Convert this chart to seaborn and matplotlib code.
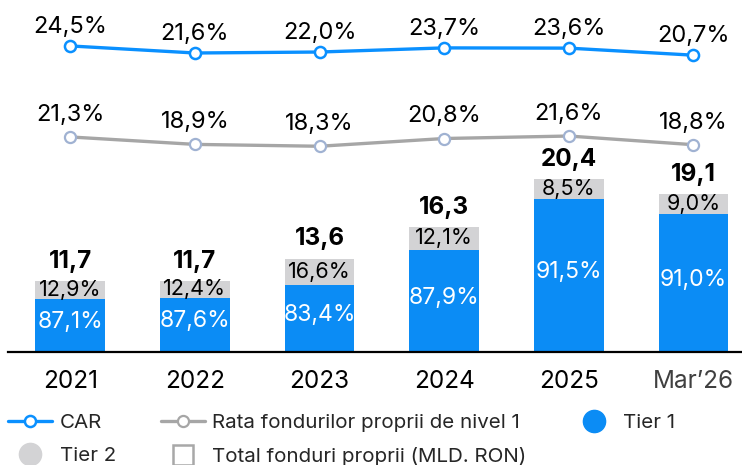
import matplotlib
matplotlib.use('Agg')
import matplotlib.pyplot as plt
from matplotlib.lines import Line2D
import seaborn as sns
import numpy as np
import pandas as pd

# data
years = ['2021', '2022', '2023', '2024', '2025', 'Mar’26']
total_funds = [11.7, 11.7, 13.6, 16.3, 20.4, 19.1]   # MLD. RON
tier1_pct = [87.1, 87.6, 83.4, 87.9, 91.5, 91.0]
tier2_pct = [12.9, 12.4, 16.6, 12.1, 8.5, 9.0]
car = [24.5, 21.6, 22.0, 23.7, 23.6, 20.7]
tier1_ratio = [21.3, 18.9, 18.3, 20.8, 21.6, 18.8]

BLUE = '#0B8CF5'
LINE_BLUE = '#0A90FF'
GRAY = '#D3D3D5'
LINE_GRAY = '#A6A6A6'
MARKER_GRAY = '#A0B2D2'


def ro(v, pct=False):
    s = f'{v:.1f}'.replace('.', ',')
    return s + '%' if pct else s


sns.set_theme(style='white')
plt.rcParams['font.family'] = ['Inter', 'DejaVu Sans']

df = pd.DataFrame({
    'year': years,
    'total': total_funds,
    'tier1': [t * p / 100 for t, p in zip(total_funds, tier1_pct)],
})

fig = plt.figure(figsize=(7.42, 4.65), dpi=100)
ax = fig.add_axes([8 / 742, 113 / 465, 734 / 742, 352 / 465])

# stacked bars: total in grey, tier 1 part in blue on top of it
sns.barplot(data=df, x='year', y='total', color=GRAY, width=0.56,
            saturation=1, linewidth=0, ax=ax)
sns.barplot(data=df, x='year', y='tier1', color=BLUE, width=0.56,
            saturation=1, linewidth=0, ax=ax)

ybot, ytop = 5.63, 35.66
ax.set_ylim(ybot, ytop)
ax.set_xlabel('')
ax.set_ylabel('')
ax.set_yticks([])
for s in ['top', 'left', 'right']:
    ax.spines[s].set_visible(False)
ax.spines['bottom'].set_color('black')
ax.spines['bottom'].set_linewidth(1.6)
ax.tick_params(axis='x', length=0, pad=13, labelsize=17.5, labelcolor='black')
ax.get_xticklabels()[-1].set_color('#404040')

x = np.arange(len(years))
for i in x:
    t1 = df['tier1'][i]
    tot = total_funds[i]
    ax.text(i, (ybot + t1) / 2 + 0.3, ro(tier1_pct[i], True), ha='center',
            va='center', color='white', fontsize=16.5)
    ax.text(i, (t1 + tot) / 2, ro(tier2_pct[i], True), ha='center',
            va='center', color='black', fontsize=15.5)
    ax.annotate(ro(tot), (i, tot), xytext=(0, 6), textcoords='offset points',
                ha='center', va='bottom', fontsize=17.5, fontweight='bold',
                color='black')

# CAR line
ax_car = ax.twinx()
sns.lineplot(x=x, y=car, ax=ax_car, color=LINE_BLUE, lw=2.4, marker='o',
             markersize=8, markerfacecolor='white', markeredgecolor=LINE_BLUE,
             markeredgewidth=1.8)
ax_car.set_ylim(-101.4, 43.4)
for i in x:
    ax_car.annotate(ro(car[i], True), (i, car[i]), xytext=(0, 6),
                    textcoords='offset points', ha='center', va='bottom',
                    fontsize=17, color='black')

# Tier 1 ratio line
ax_t1 = ax.twinx()
sns.lineplot(x=x, y=tier1_ratio, ax=ax_t1, color=LINE_GRAY, lw=2.4,
             marker='o', markersize=8, markerfacecolor='white',
             markeredgecolor=MARKER_GRAY, markeredgewidth=1.6)
ax_t1.set_ylim(-48.1, 65.5)
for i in x:
    ax_t1.annotate(ro(tier1_ratio[i], True), (i, tier1_ratio[i]),
                   xytext=(0, 8), textcoords='offset points', ha='center',
                   va='bottom', fontsize=17, color='black')

for a in [ax_car, ax_t1]:
    a.set_yticks([])
    a.set_ylabel('')
    for s in a.spines.values():
        s.set_visible(False)

ax.set_xlim(-0.5, 5.39)

# legend
handles = [
    Line2D([], [], color=LINE_BLUE, lw=2.4, marker='o', markersize=8,
           markerfacecolor='white', markeredgecolor=LINE_BLUE,
           markeredgewidth=1.8),
    Line2D([], [], ls='none', marker='o', markersize=16, color=GRAY),
    Line2D([], [], color=LINE_GRAY, lw=2.4, marker='o', markersize=8,
           markerfacecolor='white', markeredgecolor=LINE_GRAY,
           markeredgewidth=1.6),
    Line2D([], [], ls='none', marker='s', markersize=15,
           markerfacecolor='white', markeredgecolor='#A8A8A8',
           markeredgewidth=1.8),
    Line2D([], [], ls='none', marker='o', markersize=16, color=BLUE),
]
labels = ['CAR', 'Tier 2', 'Rata fondurilor proprii de nivel 1',
          'Total fonduri proprii (MLD. RON)', 'Tier 1']
fig.legend(handles, labels, ncol=3, loc='lower left',
           bbox_to_anchor=(0.0, -0.02), frameon=False, fontsize=14.8,
           handlelength=2.15, handletextpad=0.35, columnspacing=2.2,
           labelspacing=0.72, borderaxespad=0.2, borderpad=0.2)

fig.savefig('out.png', dpi=100)
